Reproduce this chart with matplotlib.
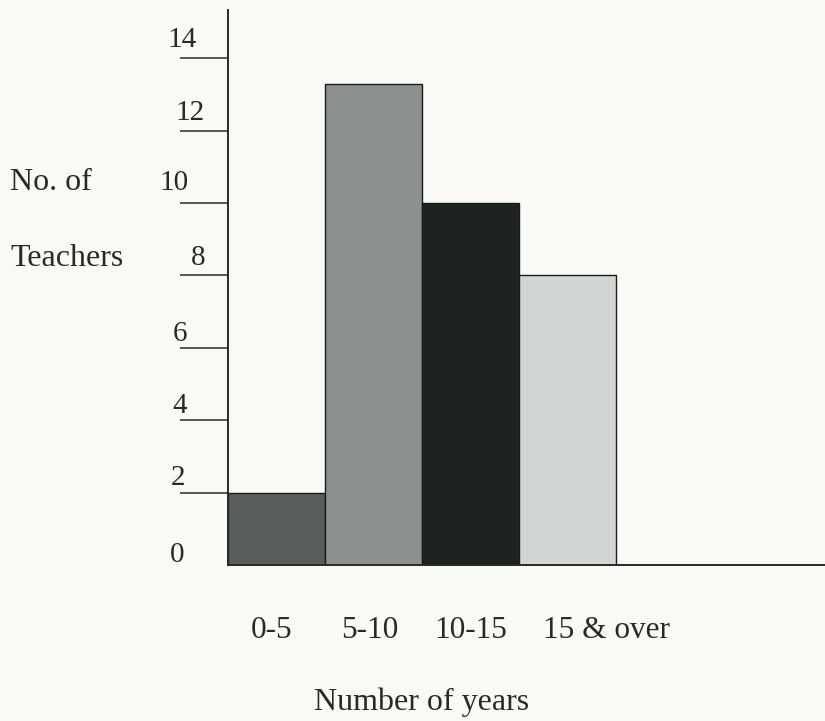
import numpy as np
import matplotlib
matplotlib.use("Agg")
from matplotlib import pyplot as plt

# teachers grouped by years of service
groups = ['0-5', '5-10', '10-15', '15 & over']
teachers = [2, 13.3, 10, 8]
bar_colours = ['#5b5d5c', '#8e908f', '#1e2220', '#d3d4d4']

y_ticks = [0, 2, 4, 6, 8, 10, 12, 14]

# hand placement of the labels (pixels, relative to tick / bar centre)
ytick_dx = [-51, -50, -48, -48, -30, -54, -38, -46]
ytick_dy = [10, 15, 14, 14, 17, 20, 18, 18]
group_dx = [-5, -4, 0, 39]

ink = '#262b2a'
plt.rcParams['font.family'] = ['Liberation Serif', 'DejaVu Serif']
plt.rcParams['font.size'] = 23

fig = plt.figure(figsize=(8.25, 7.21), dpi=100, facecolor='#f9f9f7')
ax = fig.add_axes([228/825, 156/721, 597/825, 555/721])
ax.set_facecolor('none')

x = np.arange(len(groups))
ax.bar(x, teachers, width=1.0, align='edge', color=bar_colours,
       edgecolor='#1a1a1a', linewidth=1.0, zorder=2)

ax.set_xlim(0, 597/97)
ax.set_ylim(0, 555/36.2)

for s in ['top', 'right']:
    ax.spines[s].set_visible(False)
for s in ['left', 'bottom']:
    ax.spines[s].set_linewidth(1.4)
    ax.spines[s].set_color(ink)

ax.set_xticks([])
ax.set_yticks(y_ticks[1:])
ax.set_yticklabels([])
ax.tick_params(axis='y', direction='out', length=34.5, width=1.1, color=ink)

# numbers sit above the tick lines
for v, dx, dy in zip(y_ticks, ytick_dx, ytick_dy):
    ax.annotate(str(v), xy=(0, v), xycoords=ax.get_yaxis_transform(),
                xytext=(dx, dy), textcoords='offset pixels',
                ha='center', va='center', color=ink, fontsize=21,
                annotation_clip=False)

for i, (g, dx) in enumerate(zip(groups, group_dx)):
    ax.annotate(g, xy=(x[i] + 0.5, 0), xycoords=ax.get_xaxis_transform(),
                xytext=(dx, -65), textcoords='offset pixels',
                ha='center', va='center', color=ink, fontsize=22.5,
                annotation_clip=False)

fig.text(10/825, 1 - 183/721, 'No. of', ha='left', va='center', color=ink)
fig.text(10/825, 1 - 258/721, 'Teachers', ha='left', va='center', color=ink)
fig.text(422/825, 1 - 702/721, 'Number of years', ha='center', va='center',
         color=ink)

fig.savefig('out.png', dpi=100, facecolor=fig.get_facecolor())
